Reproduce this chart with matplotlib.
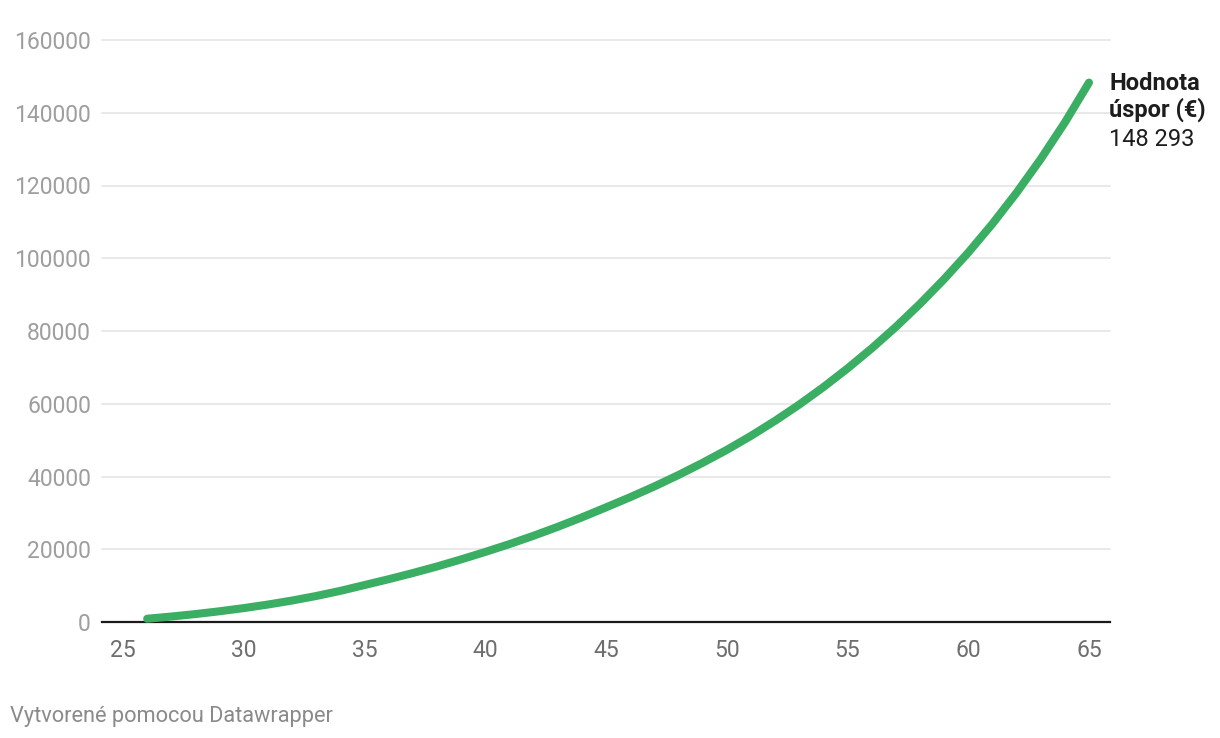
import matplotlib
matplotlib.use("Agg")
import matplotlib.pyplot as plt

plt.rcParams['font.family'] = ['Roboto', 'DejaVu Sans']

# Data (age -> savings value in EUR)
ages = list(range(26, 66))
values = [900, 1500, 2180, 2950, 3820, 4800, 5900, 7150, 8560, 10160,
          11760, 13460, 15260, 17210, 19260, 21410, 23710, 26160, 28760, 31510,
          34310, 37260, 40410, 43760, 47310, 51160, 55310, 59760, 64560, 69710,
          75210, 81110, 87460, 94260, 101560, 109460, 118010, 127260, 137310, 148293]

x_ticks = [25, 30, 35, 40, 45, 50, 55, 60, 65]
y_ticks = [0, 20000, 40000, 60000, 80000, 100000, 120000, 140000, 160000]
label_lines = ["Hodnota", "úspor (€)"]
label_value = "148 293"
footer = "Vytvorené pomocou Datawrapper"

W, H = 1220, 738
fig = plt.figure(figsize=(W / 100, H / 100), dpi=100)
ax = fig.add_axes([102 / W, (H - 622) / H, (1110 - 102) / W, (622 - 40) / H])

x_left = 25 - (123 - 102) / 24.15
x_right = 65 + (1110 - 1089) / 24.15
ax.set_xlim(x_left, x_right)
ax.set_ylim(0, 160000)

for yt in y_ticks[1:]:
    ax.axhline(yt, color='#e3e3e3', lw=1.1, zorder=1, clip_on=False)
ax.axhline(0, color='#1a1a1a', lw=1.6, zorder=3, clip_on=False)

ax.plot(ages, values, color='#3aae62', lw=5.8, solid_capstyle='round',
        solid_joinstyle='round', zorder=4, clip_on=False)

for s in ax.spines.values():
    s.set_visible(False)

ax.set_xticks(x_ticks)
ax.set_xticklabels([str(t) for t in x_ticks], fontsize=16.5, color='#6e6e6e')
ax.set_yticks(y_ticks)
ax.set_yticklabels([str(t) for t in y_ticks], fontsize=16.5, color='#9e9e9e')
ax.tick_params(axis='x', length=0, pad=12)
ax.tick_params(axis='y', length=0, pad=8)

# End label (offsets in pixels from the last point)
end = (ages[-1], values[-1])
offsets = [(20, -7), (20, -34.5)]
for txt, off in zip(label_lines, offsets):
    ax.annotate(txt, xy=end, xycoords='data', xytext=off,
                textcoords='offset pixels', ha='left', va='baseline',
                fontsize=17, fontweight='bold', color='#1d1d1d',
                annotation_clip=False)
ax.annotate(label_value, xy=end, xycoords='data', xytext=(20, -63),
            textcoords='offset pixels', ha='left', va='baseline',
            fontsize=17, color='#1d1d1d', annotation_clip=False)

fig.text(10 / W, 1 - 722 / H, footer, ha='left', va='baseline',
         fontsize=15.7, color='#8a8a8a')

fig.savefig("out.png", dpi=100, facecolor='white')
